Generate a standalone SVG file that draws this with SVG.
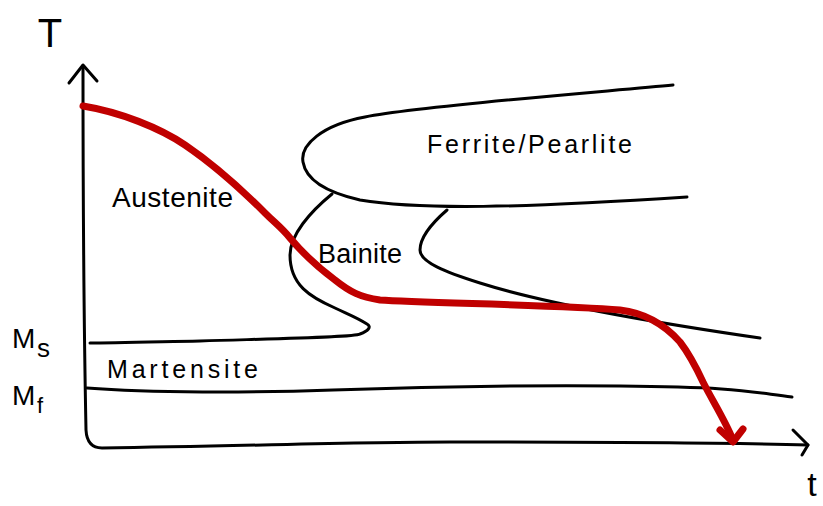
<svg xmlns="http://www.w3.org/2000/svg" width="823" height="506" viewBox="0 0 823 506">
  <style>
    .ln { fill: none; stroke: #000; stroke-width: 3; stroke-linecap: round; stroke-linejoin: round; }
    .cool { fill: none; stroke: #c00000; stroke-width: 7; stroke-linecap: round; stroke-linejoin: round; }
    .lbl { font-family: "Liberation Sans", "DejaVu Sans", sans-serif; fill: #000; }
  </style>
  <rect width="823" height="506" fill="#fff"/>

  <g id="axes">
    <path class="ln" d="M83,66 C83,200 84,330 86,430 Q87,448 102,448 C250,446 350,442 450,442 S700,442 808,445"/>
    <path class="ln" d="M69,83 L83,65 L97,81"/>
    <path class="ln" d="M793,430 L808,445 L802,455"/>
    <text class="lbl" x="50" y="47" font-size="40" text-anchor="middle">T</text>
    <text class="lbl" x="812" y="496" font-size="34" text-anchor="middle">t</text>
  </g>

  <g id="Ms">
    <path class="ln" d="M90,343 C110,343 150,342 200,341 C300,338 355,337 360,334 C368,331 372,327 367,324 C358,318 350,315 335,308 C310,297 290,285 290,255 C290,235 310,212 332,194"/>
    <text class="lbl" x="12" y="348" font-size="28">M</text>
    <text class="lbl" x="37" y="357" font-size="26">s</text>
  </g>

  <g id="Mf">
    <path class="ln" d="M87,388 C150,393 250,393 333,390 S500,385 620,386 S750,392 792,397"/>
    <text class="lbl" x="12" y="405" font-size="28">M</text>
    <text class="lbl" x="37" y="413" font-size="22">f</text>
  </g>

  <g id="ferrite-pearlite">
    <path class="ln" d="M673,85 C600,92 420,106 365,117 C322,125 300,145 303,162 C306,180 325,192 360,200 C420,210 520,208 687,197"/>
    <text class="lbl" x="427" y="153" font-size="25" textLength="205" lengthAdjust="spacing">Ferrite/Pearlite</text>
  </g>

  <g id="bainite">
    <path class="ln" d="M447,210 C432,223 420,238 420,250 C420,262 445,272 480,283 C540,302 650,322 760,338"/>
    <text class="lbl" x="318" y="263" font-size="27" textLength="84" lengthAdjust="spacing">Bainite</text>
  </g>

  <g id="austenite">
    <text class="lbl" x="112" y="207" font-size="28" textLength="121" lengthAdjust="spacing">Austenite</text>
  </g>

  <g id="martensite">
    <text class="lbl" x="107" y="378" font-size="25" textLength="151" lengthAdjust="spacing">Martensite</text>
  </g>

  <g id="connectors">
    <path class="cool" d="M83,106 C120,112 160,128 185,145 C210,162 240,188 265,213 C275,223 282,228 290,238 C300,250 315,265 335,280 C350,292 360,297 380,300 C420,303 560,305 620,310 C645,313 665,325 680,342 C690,355 696,367 703,382 C712,400 725,420 733,440"/>
    <path class="cool" d="M720,430 L733,442 L743,429"/>
  </g>
</svg>
